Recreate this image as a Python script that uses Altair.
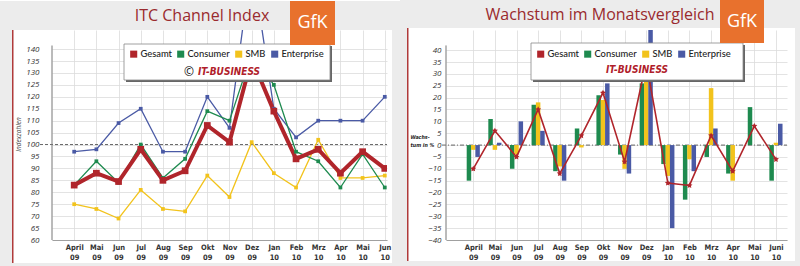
import altair as alt
import pandas as pd

# ---------------- data ----------------
months_left = ["April", "Mai", "Jun", "Jul", "Aug", "Sep", "Okt", "Nov", "Dez",
               "Jan", "Feb", "Mrz", "Apr", "Mai", "Jun"]
months_right = ["April", "Mai", "Jun", "Jul", "Aug", "Sep", "Okt", "Nov", "Dez",
                "Jan", "Feb", "Mrz", "Apr", "Mai", "Juni"]
years = ["09"] * 9 + ["10"] * 6
series = ["Gesamt", "Consumer", "SMB", "Enterprise"]

# ITC Channel Index (left)
index_gesamt = [83, 88, 84.5, 98, 85, 89, 108, 101, 136, 114, 94, 98, 88, 97, 90]
index_consumer = [83, 93, 84, 100, 86, 94, 114, 110, 138, 125, 97, 93, 82, 96, 82]
index_smb = [75, 73, 69, 81, 73, 72, 87, 78, 101, 88, 82, 102, 86, 86, 87]
index_enterprise = [97, 98, 109, 115, 97, 97, 120, 107, 177, 115, 103, 110, 110, 110, 120]

# Wachstum im Monatsvergleich in % (right)
growth_gesamt = [-10, 6, -5, 15, -12, 4, 22, -7, 35, -16, -17, 4, -11, 8, -6]
growth_consumer = [-15, 11, -10, 17, -11, 7, 21, -4, 26, -8, -23, -5, -12, 16, -15]
growth_smb = [-2, -2, -4, 18, -9, -1, 19, -10, 29, -13, -6, 24, -15, 0, 1]
growth_enterprise = [-5, 1, 10, 6, -15, 0, 26, -12, 65, -35, -11, 7, 0, 0, 9]

# ---------------- styling ----------------
colors = ["#b0252b", "#1e8a4f", "#f2c31c", "#4a5aa5"]
FONT = "Open Sans"
LEGFONT = "Lato"
NARROW = "DejaVu Sans Condensed"
GRAY = "#ececec"
TITLE_C = "#9a2a2e"
ORANGE = "#e8712d"
GRID = "#dcdcdc"


def long(d):
    rows = []
    for s, vals in d.items():
        for i, v in enumerate(vals):
            rows.append({"i": i, "series": s, "v": v})
    return pd.DataFrame(rows)


# Gesamt last so that its markers are drawn on top
df_index = long({"SMB": index_smb, "Enterprise": index_enterprise,
                 "Consumer": index_consumer, "Gesamt": index_gesamt})
df_growth_bars = long({"Consumer": growth_consumer, "SMB": growth_smb,
                       "Enterprise": growth_enterprise})
df_growth_line = long({"Gesamt": growth_gesamt})
one = pd.DataFrame({"k": [0]})

CS = alt.Scale(domain=series, range=colors)


def xlabel_expr(months):
    arr = ",".join(f"['{m}','{y}']" for m, y in zip(months, years))
    return f"[{arr}][datum.value]"


def rect(x, x2, y, y2, **kw):
    return alt.Chart(one).mark_rect(**kw).encode(
        x=alt.value(x), x2=alt.value(x2), y=alt.value(y), y2=alt.value(y2))


def text(x, y, s, **kw):
    return alt.Chart(one).mark_text(**kw).encode(
        x=alt.value(x), y=alt.value(y), text=alt.value(s))


def xaxis(months):
    return alt.Axis(values=list(range(15)), labelExpr=xlabel_expr(months), title=None,
                    grid=True, gridColor=GRID, gridWidth=0.8, tickSize=0, labelPadding=3,
                    labelFont=NARROW, labelFontWeight="bold", labelFontSize=7.5,
                    labelColor="#333", labelLineHeight=10, domainColor="#a0a0a0",
                    labelFlush=False, labelOverlap=False)


def legend(lx, ly):
    return alt.Legend(title=None, orient="none", legendX=lx, legendY=ly,
                      direction="horizontal", columns=4, symbolType="square",
                      symbolSize=50, symbolStrokeWidth=0, labelFont=LEGFONT,
                      labelFontSize=9.4, labelFontWeight=500, labelColor="#222",
                      columnPadding=4, labelOffset=2, padding=0)


# ---------------- left panel ----------------
W1, H = 335, 210
XL = alt.Scale(domain=[-1, 14.1], nice=False, zero=False)
YL = alt.Scale(domain=[60, 148], nice=False, zero=False)

yaxis_l = alt.Axis(values=list(range(60, 141, 5)), title="Indexzahlen", titleFont=FONT,
                   titleFontSize=6.5, titleFontStyle="italic", titleFontWeight="normal",
                   titleColor="#333", titleAngle=270, titleX=-34, titleY=104,
                   titleAlign="center", titleBaseline="middle", grid=True, gridColor=GRID,
                   gridWidth=0.8, tickSize=0, labelPadding=13, labelFont=FONT,
                   labelFontStyle="italic", labelFontSize=8, labelColor="#333",
                   labelOverlap=False, labelFlush=False, domain=False)
LEG_L = legend(77, 19)

base_l = alt.Chart(df_index)
enc_l = dict(x=alt.X("i:Q", scale=XL, axis=xaxis(months_left)),
             y=alt.Y("v:Q", scale=YL, axis=yaxis_l))

lines_other = base_l.transform_filter("datum.series != 'Gesamt'").mark_line(
    strokeWidth=1.3, clip=True).encode(
    stroke=alt.Stroke("series:N", scale=CS, legend=LEG_L), **enc_l)
line_g = base_l.transform_filter("datum.series == 'Gesamt'").mark_line(
    strokeWidth=4, clip=True).encode(
    stroke=alt.Stroke("series:N", scale=CS, legend=LEG_L), **enc_l)
pts_l = base_l.mark_point(
    shape="square", filled=True, strokeWidth=0, opacity=1, clip=True).encode(
    fill=alt.Fill("series:N", scale=CS, legend=LEG_L),
    size=alt.condition("datum.series == 'Gesamt'", alt.value(45), alt.value(14)),
    **enc_l)

ref100 = alt.Chart(one).mark_rule(strokeDash=[3, 2], color="#555", strokeWidth=0.9).encode(
    y=alt.datum(100, scale=YL, axis=yaxis_l), x=alt.value(-12), x2=alt.value(W1))
axisline_l = alt.Chart(one).mark_rule(color="#777", strokeWidth=1).encode(
    x=alt.value(0), y=alt.datum(141.5, scale=YL, axis=yaxis_l), y2=alt.datum(60))

left = alt.layer(
    rect(-52, 348, -29, 0, fill=GRAY),
    rect(-52, -40, 0, 237, fill=GRAY),
    rect(340, 348, 0, 237, fill=GRAY),
    rect(-52, 348, 233, 237, fill=GRAY),
    rect(-40, -38.5, 0, 233, fill="#b03a3a"),
    ref100, axisline_l,
    lines_other, line_g, pts_l,
    rect(74, 280, 16, 52, fill="#666"),
    rect(72, 278, 14, 50, fill="white", stroke="#888", strokeWidth=0.8),
    text(137, 42, "©", font=FONT, fontSize=12, color="#111", align="center", baseline="middle"),
    text(177, 42, "IT-BUSINESS", font=NARROW, fontSize=10, fontWeight="bold",
         fontStyle="italic", color="#b0202a", align="center", baseline="middle"),
    text(150, -14, "ITC Channel Index", font=FONT, fontSize=16, color=TITLE_C,
         align="center", baseline="middle"),
    rect(238, 283, -29, 15, fill=ORANGE),
    text(260.5, -7, "GfK", font=FONT, fontSize=18, color="white", align="center",
         baseline="middle"),
).properties(width=W1, height=H)

# ---------------- right panel ----------------
W2 = 341
XR = alt.Scale(domain=[-1.03, 14.28], nice=False, zero=False)
YR = alt.Scale(domain=[-40, 48.5], nice=False, zero=False)

yaxis_r = alt.Axis(values=list(range(-40, 41, 5)), title=["Wachs-", "tum in %"],
                   titleFont=NARROW, titleFontSize=5.3, titleFontStyle="italic",
                   titleFontWeight="bold", titleColor="#222", titleAngle=0, titleX=-36,
                   titleY=104, titleAlign="left", titleBaseline="top",
                   titleLineHeight=8, grid=True, gridColor=GRID, gridWidth=0.8,
                   tickSize=0, labelPadding=5, labelFont=FONT, labelFontStyle="italic",
                   labelFontSize=8, labelColor="#333", labelOverlap=False,
                   labelFlush=False, domain=False)
LEG_R = legend(90, 19)

bars = alt.Chart(df_growth_bars).transform_calculate(
    pos="datum.i + (datum.series == 'Consumer' ? -0.2 : (datum.series == 'SMB' ? 0 : 0.2))"
).mark_bar(size=4.5, clip=True).encode(
    x=alt.X("pos:Q", scale=XR, axis=xaxis(months_right)),
    y=alt.Y("v:Q", scale=YR, axis=yaxis_r),
    fill=alt.Fill("series:N", scale=CS, legend=LEG_R),
)
enc_r = dict(x=alt.X("i:Q", scale=XR, axis=xaxis(months_right)),
             y=alt.Y("v:Q", scale=YR, axis=yaxis_r))
STAR = "M0,-1L0.29,-0.4L0.95,-0.31L0.47,0.15L0.59,0.81L0,0.5L-0.59,0.81L-0.47,0.15L-0.95,-0.31L-0.29,-0.4Z"
line_r = alt.Chart(df_growth_line).mark_line(strokeWidth=1.6, clip=True).encode(
    stroke=alt.Stroke("series:N", scale=CS, legend=LEG_R), **enc_r)
pts_r = alt.Chart(df_growth_line).mark_point(
    shape=STAR, filled=True, size=40, strokeWidth=0, opacity=1, clip=True).encode(
    fill=alt.Fill("series:N", scale=CS, legend=LEG_R), **enc_r)

ref0 = alt.Chart(one).mark_rule(strokeDash=[4, 2, 1, 2], color="#555", strokeWidth=0.9).encode(
    y=alt.datum(0, scale=YR, axis=yaxis_r), x=alt.value(-4), x2=alt.value(W2))
axisline_r = alt.Chart(one).mark_rule(color="#777", strokeWidth=1).encode(
    x=alt.value(0), y=alt.datum(42, scale=YR, axis=yaxis_r), y2=alt.datum(-40))

right = alt.layer(
    rect(-46, 354, -30, -2, fill=GRAY),
    rect(-46, -39, -2, 236, fill=GRAY),
    rect(349, 354, -2, 236, fill=GRAY),
    rect(-46, 354, 231, 236, fill=GRAY),
    rect(-39, -37.5, -2, 231, fill="#b03a3a"),
    ref0, axisline_r,
    bars, line_r, pts_r,
    rect(87, 299, 15, 52, fill="#666"),
    rect(85, 297, 13, 50, fill="white", stroke="#888", strokeWidth=0.8),
    text(191, 40, "IT-BUSINESS", font=NARROW, fontSize=10, fontWeight="bold",
         fontStyle="italic", color="#b0202a", align="center", baseline="middle"),
    text(154, -15, "Wachstum im Monatsvergleich", font=FONT, fontSize=16, color=TITLE_C,
         align="center", baseline="middle"),
    rect(274, 318, -30, 13, fill=ORANGE),
    text(296, -8, "GfK", font=FONT, fontSize=18, color="white", align="center",
         baseline="middle"),
).properties(width=W2, height=H)

chart = alt.hconcat(left, right, spacing=0).resolve_scale(
    x="independent", y="independent", fill="independent", stroke="independent"
).resolve_legend(fill="independent", stroke="independent").properties(
    padding=0, background="white"
).configure_view(stroke=None)

chart.save("out.html", embed_options={"renderer": "svg", "actions": False})
